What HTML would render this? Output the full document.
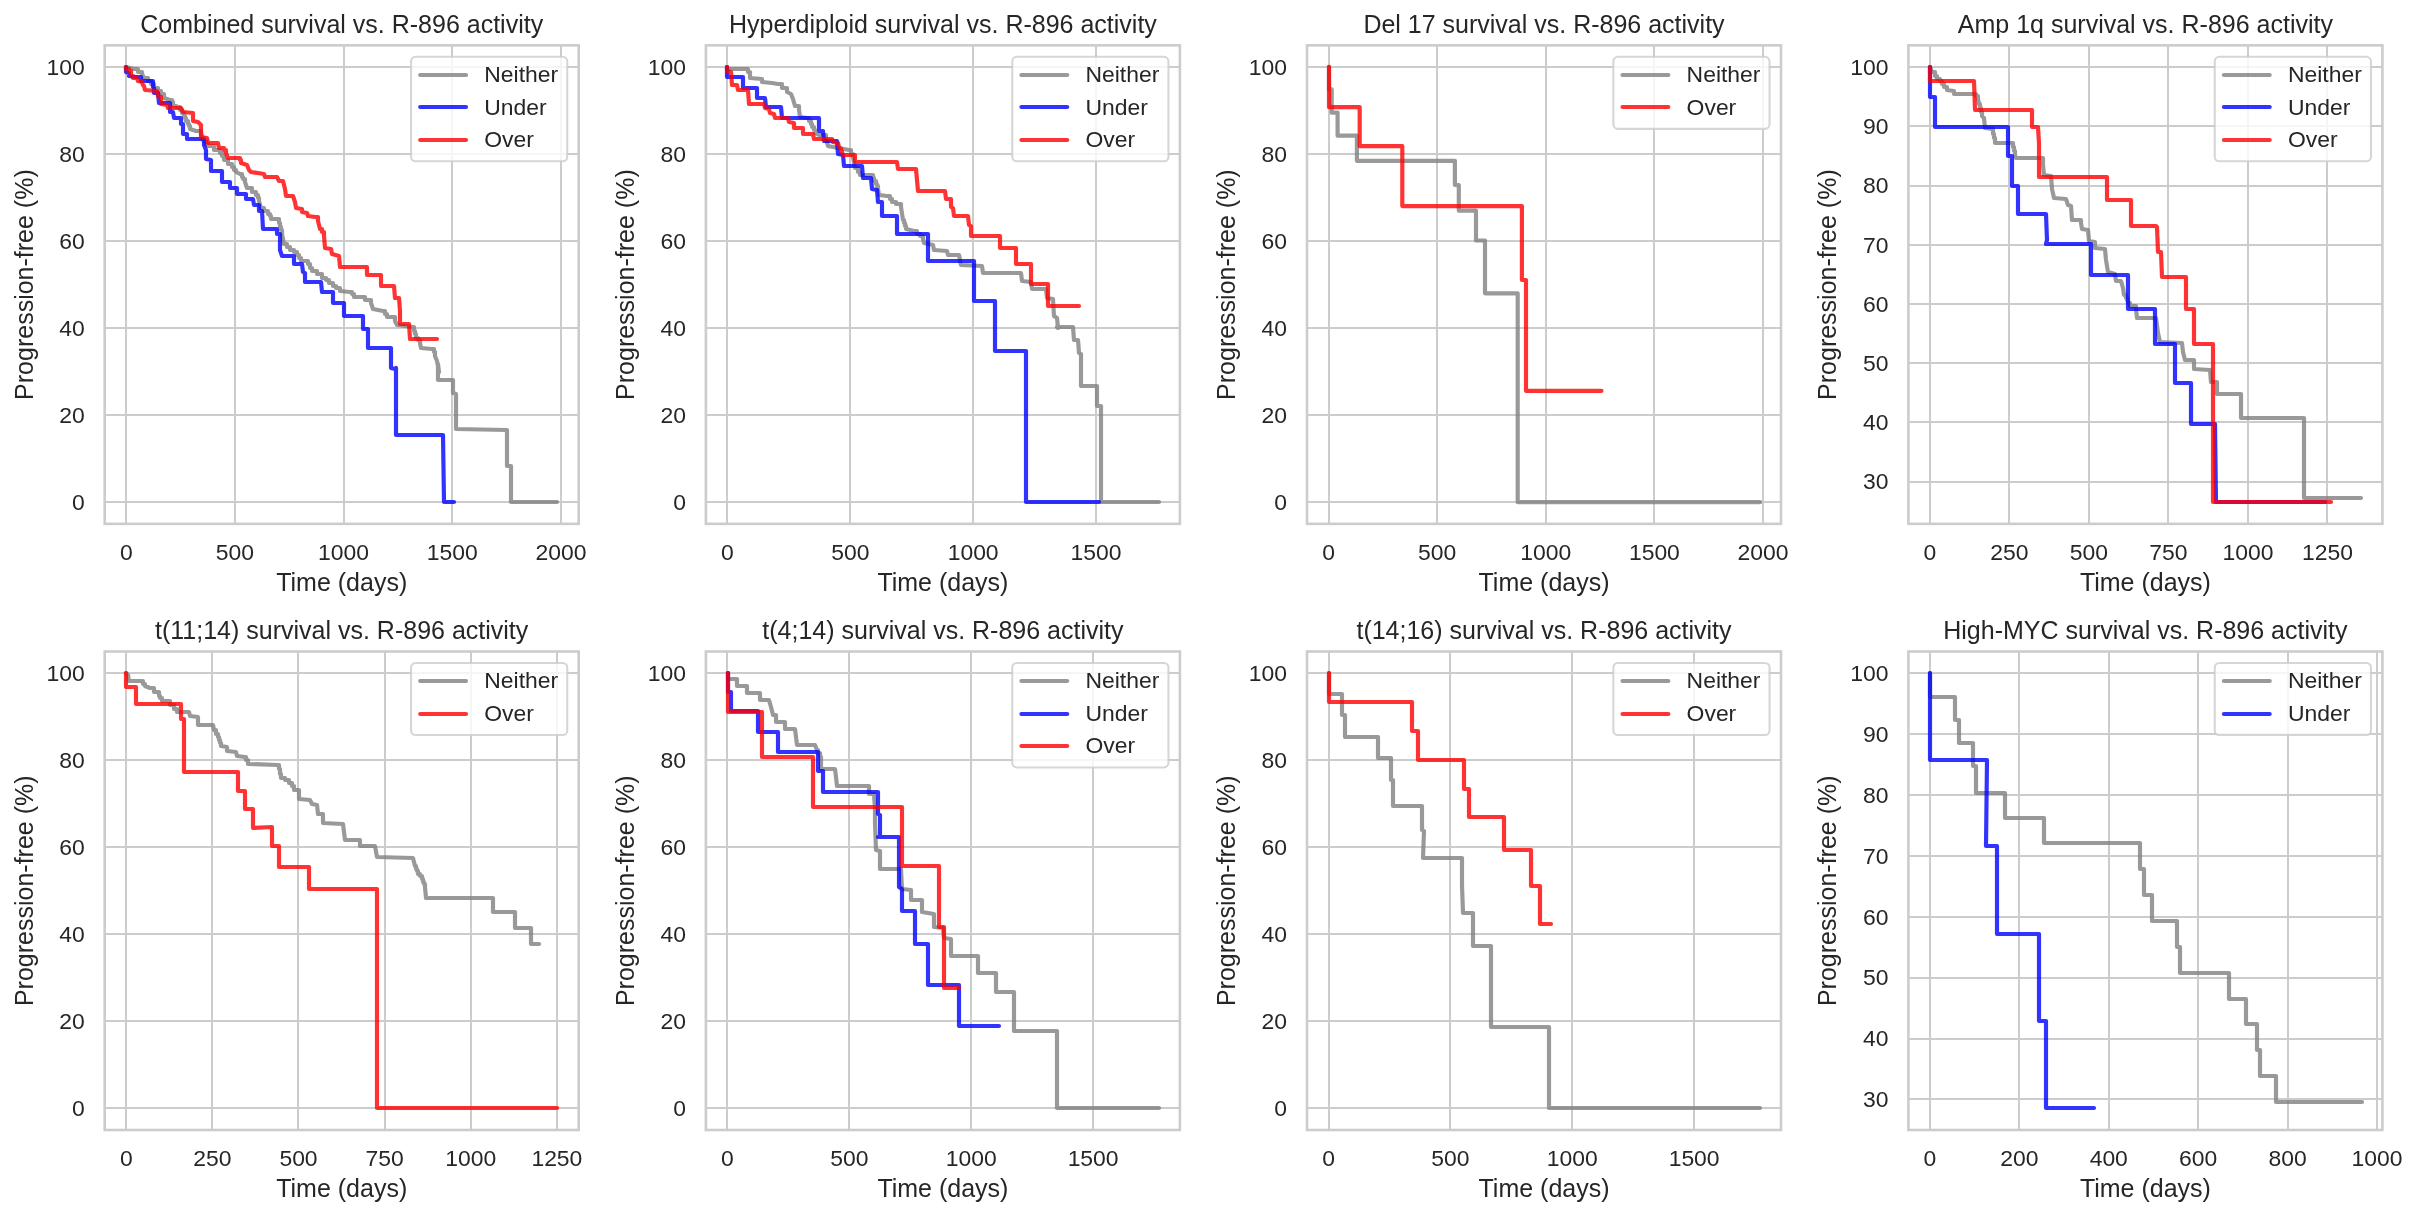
<!DOCTYPE html><html><head><meta charset="utf-8"><style>html,body{margin:0;padding:0;background:#fff;overflow:hidden}svg{display:block;will-change:transform}text{font-family:"Liberation Sans", sans-serif;fill:#262626}</style></head><body>
<svg width="2418" height="1218" viewBox="0 0 2418 1218">
<rect width="2418" height="1218" fill="#ffffff"/>
<path d="M126 45.35V523.85M235 45.35V523.85M344 45.35V523.85M452 45.35V523.85M561 45.35V523.85M104.7 502H578.7M104.7 415H578.7M104.7 328H578.7M104.7 241H578.7M104.7 154H578.7M104.7 67H578.7" stroke="#cccccc" stroke-width="2" fill="none"/>
<path d="M126 67L134 69L138 69L138 72L142 72L142 74L144 78L148 78L148 81L151 81L151 84L154 84L154 88L158 88L158 91L161 91L161 94L164 94L164 98L170 100L172 100L172 102L173 102L173 105L178 107L180 107L180 110L182 110L182 113L184 113L184 116L185 116L185 118L186 118L186 121L188 121L188 124L189 124L189 126L190 126L190 129L196 131L201 131L201 135L202 135L202 138L204 138L204 141L206 141L206 144L208 144L208 146L214 146L214 150L220 150L220 153L222 153L222 156L224 156L224 160L228 160L228 164L232 164L232 167L234 167L234 170L236 170L236 172L240 174L242 174L242 177L243 177L243 179L245 179L245 182L247 188L252 188L252 192L256 192L256 195L258 195L258 198L259 198L259 201L261 208L264 208L264 211L268 211L268 214L270 214L270 216L271 216L271 219L279 219L279 223L280 223L280 227L281 227L281 230L282 230L282 234L284 244L287 244L287 247L290 247L290 250L294 250L294 252L297 252L297 255L299 255L299 258L301 258L301 261L308 261L308 264L310 264L310 268L312 268L312 271L317 271L317 274L322 274L322 278L326 278L326 280L329 280L329 283L333 283L333 286L336 286L336 288L340 288L340 291L350 292L352 292L352 294L354 294L354 297L365 297L365 300L371 300L371 303L373 309L383 311L385 311L385 314L387 314L387 317L395 317L395 321L397 325L413 327L414 327L414 331L415 331L415 334L416 334L416 338L418 338L418 340L420 340L420 343L421 348L432 349L434 349L434 352L435 352L435 356L437 361L439 372L438 364L438 380L453 380L453 393L456 394L456 429L507 430L507 466L511 466L511 502L557 502" stroke="#808080" stroke-opacity="0.8" stroke-width="4.17" fill="none" stroke-linecap="round" stroke-linejoin="round"/>
<path d="M126 67L126 72L129 73L129 76L136 77L141 77L141 81L153 81L153 87L154 88L154 93L158 93L159 103L165 103L170 103L170 112L173 112L174 118L181 118L181 124L183 124L183 134L187 134L187 139L201 139L204 140L204 145L206 150L206 159L211 160L211 171L222 171L222 182L230 182L230 188L237 188L237 194L246 194L246 199L253 199L254 205L259 205L259 211L262 211L263 229L277 229L277 234L280 234L280 250L282 256L294 256L294 264L302 264L303 272L305 273L305 282L321 282L322 292L333 292L333 303L344 303L344 316L363 316L363 329L368 329L368 348L391 348L391 368L395 369L396 368L396 435L443 435L444 502L454 502" stroke="#0000ff" stroke-opacity="0.8" stroke-width="4.17" fill="none" stroke-linecap="round" stroke-linejoin="round"/>
<path d="M126 67L126 69L129 69L129 71L131 71L131 76L133 76L133 78L137 78L138 81L142 82L143 85L144 86L145 90L157 91L158 96L161 97L161 104L167 105L168 108L181 108L183 112L193 113L193 121L198 122L200 124L201 125L201 137L207 138L208 143L218 143L219 148L223 148L224 148L224 150L226 150L226 153L228 158L238 158L240 158L240 160L241 160L241 163L247 165L249 170L251 172L264 174L265 177L277 177L279 181L283 181L285 189L286 196L293 196L295 202L296 208L302 209L302 212L307 213L308 216L315 217L318 217L318 221L320 229L322 229L322 232L324 232L324 236L325 248L331 249L332 254L339 256L340 267L367 267L367 275L381 275L381 286L394 286L395 298L399 298L400 311L400 324L409 324L410 339L437 339" stroke="#ff0000" stroke-opacity="0.8" stroke-width="4.17" fill="none" stroke-linecap="round" stroke-linejoin="round"/>
<rect x="104.7" y="45.35" width="474" height="478.5" fill="none" stroke="#cccccc" stroke-width="2.6"/>
<text x="126.25" y="560.15" font-size="22.92" text-anchor="middle">0</text>
<text x="234.92" y="560.15" font-size="22.92" text-anchor="middle">500</text>
<text x="343.59" y="560.15" font-size="22.92" text-anchor="middle">1000</text>
<text x="452.26" y="560.15" font-size="22.92" text-anchor="middle">1500</text>
<text x="560.94" y="560.15" font-size="22.92" text-anchor="middle">2000</text>
<text x="84.7" y="509.85" font-size="22.92" text-anchor="end">0</text>
<text x="84.7" y="422.85" font-size="22.92" text-anchor="end">20</text>
<text x="84.7" y="335.85" font-size="22.92" text-anchor="end">40</text>
<text x="84.7" y="248.85" font-size="22.92" text-anchor="end">60</text>
<text x="84.7" y="161.85" font-size="22.92" text-anchor="end">80</text>
<text x="84.7" y="74.85" font-size="22.92" text-anchor="end">100</text>
<text x="341.7" y="32.85" font-size="25" text-anchor="middle">Combined survival vs. R-896 activity</text>
<text x="341.7" y="590.8" font-size="25" text-anchor="middle">Time (days)</text>
<text x="32.7" y="284.6" font-size="25" text-anchor="middle" transform="rotate(-90 32.7 284.6)">Progression-free (%)</text>
<rect x="411.05" y="56.8" width="156.2" height="104.5" rx="4.6" ry="4.6" fill="#ffffff" fill-opacity="0.8" stroke="#cccccc" stroke-opacity="0.8" stroke-width="2.08"/>
<path d="M420.21 75H466.01" stroke="#808080" stroke-opacity="0.8" stroke-width="4.17" stroke-linecap="round"/>
<text x="484.31" y="82.2" font-size="22.92">Neither</text>
<path d="M420.21 107H466.01" stroke="#0000ff" stroke-opacity="0.8" stroke-width="4.17" stroke-linecap="round"/>
<text x="484.31" y="114.6" font-size="22.92">Under</text>
<path d="M420.21 140H466.01" stroke="#ff0000" stroke-opacity="0.8" stroke-width="4.17" stroke-linecap="round"/>
<text x="484.31" y="147" font-size="22.92">Over</text>
<path d="M727 45.35V523.85M850 45.35V523.85M973 45.35V523.85M1096 45.35V523.85M705.9 502H1179.9M705.9 415H1179.9M705.9 328H1179.9M705.9 241H1179.9M705.9 154H1179.9M705.9 67H1179.9" stroke="#cccccc" stroke-width="2" fill="none"/>
<path d="M727 67L727 69L746 69L748 69L748 72L750 72L750 75L750 78L762 79L762 82L772 83L778 84L782 84L782 88L787 88L787 92L791 94L793 99L795 106L799 106L799 110L800 117L807 118L809 118L809 121L811 121L811 124L812 124L812 127L814 127L814 130L815 130L815 133L819 135L826 135L826 139L828 146L833 147L839 148L849 150L851 150L851 154L853 154L853 157L855 168L858 168L858 172L860 172L860 175L873 175L873 178L874 178L874 181L876 181L876 184L877 184L877 186L878 186L878 189L879 195L887 196L890 196L890 199L892 199L892 202L896 202L896 204L901 204L901 207L903 220L904 220L904 223L905 223L905 226L906 226L906 229L914 231L917 231L917 234L920 234L920 236L923 236L923 239L924 243L933 245L934 250L947 251L948 255L959 255L960 260L961 265L982 266L983 273L1021 273L1022 281L1031 282L1032 289L1046 289L1047 298L1053 299L1054 316L1057 318L1058 328L1057 327L1073 327L1074 340L1078 340L1079 353L1081 354L1081 368L1081 386L1097 386L1097 406L1101 406L1101 470L1101 502L1159 502" stroke="#808080" stroke-opacity="0.8" stroke-width="4.17" fill="none" stroke-linecap="round" stroke-linejoin="round"/>
<path d="M727 67L727 77L743 77L743 88L757 88L757 98L765 98L766 107L781 107L782 118L819 118L819 131L823 131L824 141L837 141L838 154L843 155L844 166L862 166L863 178L871 178L872 189L877 190L878 202L882 202L882 216L897 216L897 234L928 234L928 261L974 261L974 301L995 301L995 320L995 351L1026 351L1026 470L1026 502L1099 502" stroke="#0000ff" stroke-opacity="0.8" stroke-width="4.17" fill="none" stroke-linecap="round" stroke-linejoin="round"/>
<path d="M727 67L727 71L731 72L732 85L737 85L738 90L748 90L749 104L764 104L765 108L769 109L770 113L774 114L775 118L788 118L789 122L794 123L794 128L803 128L803 134L813 134L814 139L832 139L833 142L838 143L839 147L841 149L843 155L855 155L855 162L897 162L898 169L916 169L918 191L945 191L946 199L951 199L951 207L953 208L954 216L968 216L969 225L971 226L971 236L1000 236L1000 248L1016 248L1016 264L1031 264L1031 284L1048 284L1048 306L1079 306" stroke="#ff0000" stroke-opacity="0.8" stroke-width="4.17" fill="none" stroke-linecap="round" stroke-linejoin="round"/>
<rect x="705.9" y="45.35" width="474" height="478.5" fill="none" stroke="#cccccc" stroke-width="2.6"/>
<text x="727.45" y="560.15" font-size="22.92" text-anchor="middle">0</text>
<text x="850.3" y="560.15" font-size="22.92" text-anchor="middle">500</text>
<text x="973.15" y="560.15" font-size="22.92" text-anchor="middle">1000</text>
<text x="1096" y="560.15" font-size="22.92" text-anchor="middle">1500</text>
<text x="685.9" y="509.85" font-size="22.92" text-anchor="end">0</text>
<text x="685.9" y="422.85" font-size="22.92" text-anchor="end">20</text>
<text x="685.9" y="335.85" font-size="22.92" text-anchor="end">40</text>
<text x="685.9" y="248.85" font-size="22.92" text-anchor="end">60</text>
<text x="685.9" y="161.85" font-size="22.92" text-anchor="end">80</text>
<text x="685.9" y="74.85" font-size="22.92" text-anchor="end">100</text>
<text x="942.9" y="32.85" font-size="25" text-anchor="middle">Hyperdiploid survival vs. R-896 activity</text>
<text x="942.9" y="590.8" font-size="25" text-anchor="middle">Time (days)</text>
<text x="633.9" y="284.6" font-size="25" text-anchor="middle" transform="rotate(-90 633.9 284.6)">Progression-free (%)</text>
<rect x="1012.25" y="56.8" width="156.2" height="104.5" rx="4.6" ry="4.6" fill="#ffffff" fill-opacity="0.8" stroke="#cccccc" stroke-opacity="0.8" stroke-width="2.08"/>
<path d="M1021.41 75H1067.21" stroke="#808080" stroke-opacity="0.8" stroke-width="4.17" stroke-linecap="round"/>
<text x="1085.51" y="82.2" font-size="22.92">Neither</text>
<path d="M1021.41 107H1067.21" stroke="#0000ff" stroke-opacity="0.8" stroke-width="4.17" stroke-linecap="round"/>
<text x="1085.51" y="114.6" font-size="22.92">Under</text>
<path d="M1021.41 140H1067.21" stroke="#ff0000" stroke-opacity="0.8" stroke-width="4.17" stroke-linecap="round"/>
<text x="1085.51" y="147" font-size="22.92">Over</text>
<path d="M1329 45.35V523.85M1437 45.35V523.85M1546 45.35V523.85M1654 45.35V523.85M1763 45.35V523.85M1307 502H1781M1307 415H1781M1307 328H1781M1307 241H1781M1307 154H1781M1307 67H1781" stroke="#cccccc" stroke-width="2" fill="none"/>
<path d="M1329 66.8V89.4H1331.7V112.7H1337.6V135.7H1356.9V160.8H1454.9V185H1458.8V210.7H1476V240.5H1485V293.3H1517.7V502.2H1760.1" stroke="#808080" stroke-opacity="0.8" stroke-width="4.17" fill="none" stroke-linecap="round" stroke-linejoin="round"/>
<path d="M1329 66.8V107.2H1359.7V146.2H1402.3V206.1H1521.9V280H1526V390.8H1601.5" stroke="#ff0000" stroke-opacity="0.8" stroke-width="4.17" fill="none" stroke-linecap="round" stroke-linejoin="round"/>
<rect x="1307" y="45.35" width="474" height="478.5" fill="none" stroke="#cccccc" stroke-width="2.6"/>
<text x="1328.55" y="560.15" font-size="22.92" text-anchor="middle">0</text>
<text x="1437.16" y="560.15" font-size="22.92" text-anchor="middle">500</text>
<text x="1545.78" y="560.15" font-size="22.92" text-anchor="middle">1000</text>
<text x="1654.4" y="560.15" font-size="22.92" text-anchor="middle">1500</text>
<text x="1763.02" y="560.15" font-size="22.92" text-anchor="middle">2000</text>
<text x="1287" y="509.85" font-size="22.92" text-anchor="end">0</text>
<text x="1287" y="422.85" font-size="22.92" text-anchor="end">20</text>
<text x="1287" y="335.85" font-size="22.92" text-anchor="end">40</text>
<text x="1287" y="248.85" font-size="22.92" text-anchor="end">60</text>
<text x="1287" y="161.85" font-size="22.92" text-anchor="end">80</text>
<text x="1287" y="74.85" font-size="22.92" text-anchor="end">100</text>
<text x="1544" y="32.85" font-size="25" text-anchor="middle">Del 17 survival vs. R-896 activity</text>
<text x="1544" y="590.8" font-size="25" text-anchor="middle">Time (days)</text>
<text x="1235" y="284.6" font-size="25" text-anchor="middle" transform="rotate(-90 1235 284.6)">Progression-free (%)</text>
<rect x="1613.35" y="56.8" width="156.2" height="72.1" rx="4.6" ry="4.6" fill="#ffffff" fill-opacity="0.8" stroke="#cccccc" stroke-opacity="0.8" stroke-width="2.08"/>
<path d="M1622.51 75H1668.31" stroke="#808080" stroke-opacity="0.8" stroke-width="4.17" stroke-linecap="round"/>
<text x="1686.61" y="82.2" font-size="22.92">Neither</text>
<path d="M1622.51 107H1668.31" stroke="#ff0000" stroke-opacity="0.8" stroke-width="4.17" stroke-linecap="round"/>
<text x="1686.61" y="114.6" font-size="22.92">Over</text>
<path d="M1930 45.35V523.85M2009 45.35V523.85M2089 45.35V523.85M2168 45.35V523.85M2248 45.35V523.85M2327 45.35V523.85M1908.4 482H2382.4M1908.4 422H2382.4M1908.4 363H2382.4M1908.4 304H2382.4M1908.4 245H2382.4M1908.4 186H2382.4M1908.4 126H2382.4M1908.4 67H2382.4" stroke="#cccccc" stroke-width="2" fill="none"/>
<path d="M1930 67L1932 72L1935 72L1935 76L1937 76L1937 79L1940 79L1940 81L1942 81L1942 84L1944 84L1944 87L1947 87L1947 90L1954 91L1954 94L1973 94L1976 94L1976 96L1978 96L1978 99L1979 104L1980 104L1980 108L1981 108L1981 112L1982 112L1982 116L1984 118L1985 128L1992 129L1993 129L1993 134L1994 134L1994 138L1995 138L1995 143L2012 143L2013 143L2013 147L2014 147L2014 151L2015 151L2015 155L2016 158L2043 158L2043 165L2044 175L2051 176L2052 189L2054 198L2066 199L2068 205L2071 206L2072 220L2081 220L2081 223L2082 229L2088 230L2089 241L2095 242L2095 248L2105 249L2106 260L2108 272L2115 274L2116 281L2121 281L2123 288L2124 295L2126 295L2126 298L2127 298L2127 300L2128 300L2128 303L2130 303L2130 306L2136 306L2136 309L2137 318L2156 318L2158 333L2160 342L2182 343L2183 352L2185 360L2194 360L2194 369L2210 370L2211 382L2217 382L2217 394L2241 394L2241 418L2304 418L2304 498L2361 498" stroke="#808080" stroke-opacity="0.8" stroke-width="4.17" fill="none" stroke-linecap="round" stroke-linejoin="round"/>
<path d="M1930 67L1930 97L1935 97L1935 127L2008 127L2008 156L2012 156L2012 186L2018 186L2018 214L2046 214L2047 240L2046 244L2091 244L2091 275L2128 275L2128 309L2155 309L2155 344L2175 344L2175 383L2191 383L2191 400L2191 424L2215 424L2216 502L2325 502" stroke="#0000ff" stroke-opacity="0.8" stroke-width="4.17" fill="none" stroke-linecap="round" stroke-linejoin="round"/>
<path d="M1930 67L1930 81L1974 81L1975 110L2032 110L2032 127L2038 127L2039 143L2039 177L2107 177L2107 200L2131 200L2131 226L2156 226L2157 227L2158 252L2161 252L2162 277L2186 277L2186 309L2194 309L2194 344L2213 344L2213 400L2213 502L2331 502" stroke="#ff0000" stroke-opacity="0.8" stroke-width="4.17" fill="none" stroke-linecap="round" stroke-linejoin="round"/>
<rect x="1908.4" y="45.35" width="474" height="478.5" fill="none" stroke="#cccccc" stroke-width="2.6"/>
<text x="1929.95" y="560.15" font-size="22.92" text-anchor="middle">0</text>
<text x="2009.45" y="560.15" font-size="22.92" text-anchor="middle">250</text>
<text x="2088.95" y="560.15" font-size="22.92" text-anchor="middle">500</text>
<text x="2168.46" y="560.15" font-size="22.92" text-anchor="middle">750</text>
<text x="2247.96" y="560.15" font-size="22.92" text-anchor="middle">1000</text>
<text x="2327.46" y="560.15" font-size="22.92" text-anchor="middle">1250</text>
<text x="1888.4" y="489.47" font-size="22.92" text-anchor="end">30</text>
<text x="1888.4" y="430.24" font-size="22.92" text-anchor="end">40</text>
<text x="1888.4" y="371.01" font-size="22.92" text-anchor="end">50</text>
<text x="1888.4" y="311.78" font-size="22.92" text-anchor="end">60</text>
<text x="1888.4" y="252.55" font-size="22.92" text-anchor="end">70</text>
<text x="1888.4" y="193.31" font-size="22.92" text-anchor="end">80</text>
<text x="1888.4" y="134.08" font-size="22.92" text-anchor="end">90</text>
<text x="1888.4" y="74.85" font-size="22.92" text-anchor="end">100</text>
<text x="2145.4" y="32.85" font-size="25" text-anchor="middle">Amp 1q survival vs. R-896 activity</text>
<text x="2145.4" y="590.8" font-size="25" text-anchor="middle">Time (days)</text>
<text x="1836.4" y="284.6" font-size="25" text-anchor="middle" transform="rotate(-90 1836.4 284.6)">Progression-free (%)</text>
<rect x="2214.75" y="56.8" width="156.2" height="104.5" rx="4.6" ry="4.6" fill="#ffffff" fill-opacity="0.8" stroke="#cccccc" stroke-opacity="0.8" stroke-width="2.08"/>
<path d="M2223.91 75H2269.71" stroke="#808080" stroke-opacity="0.8" stroke-width="4.17" stroke-linecap="round"/>
<text x="2288.01" y="82.2" font-size="22.92">Neither</text>
<path d="M2223.91 107H2269.71" stroke="#0000ff" stroke-opacity="0.8" stroke-width="4.17" stroke-linecap="round"/>
<text x="2288.01" y="114.6" font-size="22.92">Under</text>
<path d="M2223.91 140H2269.71" stroke="#ff0000" stroke-opacity="0.8" stroke-width="4.17" stroke-linecap="round"/>
<text x="2288.01" y="147" font-size="22.92">Over</text>
<path d="M126 651.5V1130M212 651.5V1130M298 651.5V1130M385 651.5V1130M471 651.5V1130M557 651.5V1130M104.7 1108H578.7M104.7 1021H578.7M104.7 934H578.7M104.7 847H578.7M104.7 760H578.7M104.7 673H578.7" stroke="#cccccc" stroke-width="2" fill="none"/>
<path d="M126 673L128 675L129 681L141 681L143 681L143 684L145 684L145 686L150 688L154 688L154 692L159 692L159 696L160 696L160 698L162 698L162 701L170 701L170 705L174 705L174 709L177 709L177 712L189 712L190 716L198 717L198 725L213 725L214 730L216 730L216 734L218 734L218 737L219 737L219 740L220 740L220 743L221 743L221 746L227 747L227 751L236 752L237 756L245 757L246 757L246 760L248 760L248 764L278 765L279 765L279 769L280 769L280 774L281 774L281 778L285 778L285 780L289 780L289 783L292 783L292 786L294 786L294 790L299 790L299 794L299 799L310 800L312 804L317 805L318 814L323 814L323 823L343 824L345 840L360 840L360 846L375 846L377 857L413 858L415 866L416 866L416 869L417 869L417 871L418 871L418 874L420 874L420 876L422 876L422 879L423 879L423 882L424 882L424 884L425 884L425 887L426 898L493 898L493 912L515 912L515 928L531 928L531 944L539 944" stroke="#808080" stroke-opacity="0.8" stroke-width="4.17" fill="none" stroke-linecap="round" stroke-linejoin="round"/>
<path d="M126 673L126 687L136 687L136 704L181 704L181 719L184 719L184 772L238 772L238 791L245 791L245 809L253 809L253 828L272 827L272 846L279 846L279 867L309 867L309 889L377 889L377 1108L557 1108" stroke="#ff0000" stroke-opacity="0.8" stroke-width="4.17" fill="none" stroke-linecap="round" stroke-linejoin="round"/>
<rect x="104.7" y="651.5" width="474" height="478.5" fill="none" stroke="#cccccc" stroke-width="2.6"/>
<text x="126.25" y="1166.3" font-size="22.92" text-anchor="middle">0</text>
<text x="212.37" y="1166.3" font-size="22.92" text-anchor="middle">250</text>
<text x="298.5" y="1166.3" font-size="22.92" text-anchor="middle">500</text>
<text x="384.63" y="1166.3" font-size="22.92" text-anchor="middle">750</text>
<text x="470.75" y="1166.3" font-size="22.92" text-anchor="middle">1000</text>
<text x="556.88" y="1166.3" font-size="22.92" text-anchor="middle">1250</text>
<text x="84.7" y="1116" font-size="22.92" text-anchor="end">0</text>
<text x="84.7" y="1029" font-size="22.92" text-anchor="end">20</text>
<text x="84.7" y="942" font-size="22.92" text-anchor="end">40</text>
<text x="84.7" y="855" font-size="22.92" text-anchor="end">60</text>
<text x="84.7" y="768" font-size="22.92" text-anchor="end">80</text>
<text x="84.7" y="681" font-size="22.92" text-anchor="end">100</text>
<text x="341.7" y="639" font-size="25" text-anchor="middle">t(11;14) survival vs. R-896 activity</text>
<text x="341.7" y="1196.95" font-size="25" text-anchor="middle">Time (days)</text>
<text x="32.7" y="890.75" font-size="25" text-anchor="middle" transform="rotate(-90 32.7 890.75)">Progression-free (%)</text>
<rect x="411.05" y="662.95" width="156.2" height="72.1" rx="4.6" ry="4.6" fill="#ffffff" fill-opacity="0.8" stroke="#cccccc" stroke-opacity="0.8" stroke-width="2.08"/>
<path d="M420.21 681H466.01" stroke="#808080" stroke-opacity="0.8" stroke-width="4.17" stroke-linecap="round"/>
<text x="484.31" y="688.35" font-size="22.92">Neither</text>
<path d="M420.21 714H466.01" stroke="#ff0000" stroke-opacity="0.8" stroke-width="4.17" stroke-linecap="round"/>
<text x="484.31" y="720.75" font-size="22.92">Over</text>
<path d="M727 651.5V1130M849 651.5V1130M971 651.5V1130M1093 651.5V1130M705.9 1108H1179.9M705.9 1021H1179.9M705.9 934H1179.9M705.9 847H1179.9M705.9 760H1179.9M705.9 673H1179.9" stroke="#cccccc" stroke-width="2" fill="none"/>
<path d="M728 673L728 679L737 679L737 686L747 686L747 693L760 693L760 700L769 700L771 707L773 715L776 715L776 722L785 722L785 729L795 729L796 737L797 745L815 745L817 750L818 750L818 753L820 753L820 757L821 757L821 760L821 769L835 769L836 777L837 786L869 786L869 794L874 794L875 809L875 823L876 850L880 851L880 869L901 869L902 889L911 890L911 900L922 900L922 912L934 914L934 927L943 928L944 938L951 939L951 956L978 956L978 973L996 973L996 992L1014 992L1014 1031L1057 1031L1057 1108L1159 1108" stroke="#808080" stroke-opacity="0.8" stroke-width="4.17" fill="none" stroke-linecap="round" stroke-linejoin="round"/>
<path d="M728 673L728 692L731 692L731 711L758 711L758 732L778 732L778 752L818 752L818 771L823 771L823 792L878 792L878 814L880 815L880 837L878 837L899 837L899 887L902 889L902 911L915 911L915 944L928 944L928 985L959 985L959 1026L999 1026" stroke="#0000ff" stroke-opacity="0.8" stroke-width="4.17" fill="none" stroke-linecap="round" stroke-linejoin="round"/>
<path d="M728 673L728 712L762 712L762 757L813 757L813 807L902 807L902 820L902 866L939 866L939 927L944 927L944 988L959 988" stroke="#ff0000" stroke-opacity="0.8" stroke-width="4.17" fill="none" stroke-linecap="round" stroke-linejoin="round"/>
<rect x="705.9" y="651.5" width="474" height="478.5" fill="none" stroke="#cccccc" stroke-width="2.6"/>
<text x="727.45" y="1166.3" font-size="22.92" text-anchor="middle">0</text>
<text x="849.34" y="1166.3" font-size="22.92" text-anchor="middle">500</text>
<text x="971.23" y="1166.3" font-size="22.92" text-anchor="middle">1000</text>
<text x="1093.12" y="1166.3" font-size="22.92" text-anchor="middle">1500</text>
<text x="685.9" y="1116" font-size="22.92" text-anchor="end">0</text>
<text x="685.9" y="1029" font-size="22.92" text-anchor="end">20</text>
<text x="685.9" y="942" font-size="22.92" text-anchor="end">40</text>
<text x="685.9" y="855" font-size="22.92" text-anchor="end">60</text>
<text x="685.9" y="768" font-size="22.92" text-anchor="end">80</text>
<text x="685.9" y="681" font-size="22.92" text-anchor="end">100</text>
<text x="942.9" y="639" font-size="25" text-anchor="middle">t(4;14) survival vs. R-896 activity</text>
<text x="942.9" y="1196.95" font-size="25" text-anchor="middle">Time (days)</text>
<text x="633.9" y="890.75" font-size="25" text-anchor="middle" transform="rotate(-90 633.9 890.75)">Progression-free (%)</text>
<rect x="1012.25" y="662.95" width="156.2" height="104.5" rx="4.6" ry="4.6" fill="#ffffff" fill-opacity="0.8" stroke="#cccccc" stroke-opacity="0.8" stroke-width="2.08"/>
<path d="M1021.41 681H1067.21" stroke="#808080" stroke-opacity="0.8" stroke-width="4.17" stroke-linecap="round"/>
<text x="1085.51" y="688.35" font-size="22.92">Neither</text>
<path d="M1021.41 714H1067.21" stroke="#0000ff" stroke-opacity="0.8" stroke-width="4.17" stroke-linecap="round"/>
<text x="1085.51" y="720.75" font-size="22.92">Under</text>
<path d="M1021.41 746H1067.21" stroke="#ff0000" stroke-opacity="0.8" stroke-width="4.17" stroke-linecap="round"/>
<text x="1085.51" y="753.15" font-size="22.92">Over</text>
<path d="M1329 651.5V1130M1450 651.5V1130M1572 651.5V1130M1694 651.5V1130M1307 1108H1781M1307 1021H1781M1307 934H1781M1307 847H1781M1307 760H1781M1307 673H1781" stroke="#cccccc" stroke-width="2" fill="none"/>
<path d="M1329 673L1329 694L1342 694L1342 715L1345 715L1345 737L1378 737L1378 758L1391 758L1391 780L1393 780L1393 806L1422 806L1422 830L1424 831L1423 858L1462 858L1462 885L1463 913L1473 913L1473 946L1491 946L1491 1027L1549 1027L1549 1108L1760 1108" stroke="#808080" stroke-opacity="0.8" stroke-width="4.17" fill="none" stroke-linecap="round" stroke-linejoin="round"/>
<path d="M1329 673L1329 702L1412 702L1412 731L1418 731L1418 760L1464 760L1464 789L1469 789L1469 817L1504 817L1504 850L1531 850L1531 886L1540 886L1540 924L1551 924" stroke="#ff0000" stroke-opacity="0.8" stroke-width="4.17" fill="none" stroke-linecap="round" stroke-linejoin="round"/>
<rect x="1307" y="651.5" width="474" height="478.5" fill="none" stroke="#cccccc" stroke-width="2.6"/>
<text x="1328.55" y="1166.3" font-size="22.92" text-anchor="middle">0</text>
<text x="1450.41" y="1166.3" font-size="22.92" text-anchor="middle">500</text>
<text x="1572.27" y="1166.3" font-size="22.92" text-anchor="middle">1000</text>
<text x="1694.14" y="1166.3" font-size="22.92" text-anchor="middle">1500</text>
<text x="1287" y="1116" font-size="22.92" text-anchor="end">0</text>
<text x="1287" y="1029" font-size="22.92" text-anchor="end">20</text>
<text x="1287" y="942" font-size="22.92" text-anchor="end">40</text>
<text x="1287" y="855" font-size="22.92" text-anchor="end">60</text>
<text x="1287" y="768" font-size="22.92" text-anchor="end">80</text>
<text x="1287" y="681" font-size="22.92" text-anchor="end">100</text>
<text x="1544" y="639" font-size="25" text-anchor="middle">t(14;16) survival vs. R-896 activity</text>
<text x="1544" y="1196.95" font-size="25" text-anchor="middle">Time (days)</text>
<text x="1235" y="890.75" font-size="25" text-anchor="middle" transform="rotate(-90 1235 890.75)">Progression-free (%)</text>
<rect x="1613.35" y="662.95" width="156.2" height="72.1" rx="4.6" ry="4.6" fill="#ffffff" fill-opacity="0.8" stroke="#cccccc" stroke-opacity="0.8" stroke-width="2.08"/>
<path d="M1622.51 681H1668.31" stroke="#808080" stroke-opacity="0.8" stroke-width="4.17" stroke-linecap="round"/>
<text x="1686.61" y="688.35" font-size="22.92">Neither</text>
<path d="M1622.51 714H1668.31" stroke="#ff0000" stroke-opacity="0.8" stroke-width="4.17" stroke-linecap="round"/>
<text x="1686.61" y="720.75" font-size="22.92">Over</text>
<path d="M1930 651.5V1130M2019 651.5V1130M2109 651.5V1130M2198 651.5V1130M2288 651.5V1130M2377 651.5V1130M1908.4 1099H2382.4M1908.4 1039H2382.4M1908.4 978H2382.4M1908.4 917H2382.4M1908.4 856H2382.4M1908.4 795H2382.4M1908.4 734H2382.4M1908.4 673H2382.4" stroke="#cccccc" stroke-width="2" fill="none"/>
<path d="M1930 673L1930 697L1955 697L1955 720L1959 720L1959 743L1973 743L1973 766L1976 766L1976 793L2005 793L2005 818L2044 818L2044 843L2140 843L2140 869L2144 869L2144 895L2152 895L2152 921L2177 921L2177 947L2180 947L2180 973L2229 973L2229 999L2246 999L2246 1024L2257 1024L2257 1050L2260 1050L2260 1076L2276 1076L2276 1102L2362 1102" stroke="#808080" stroke-opacity="0.8" stroke-width="4.17" fill="none" stroke-linecap="round" stroke-linejoin="round"/>
<path d="M1930 673L1930 760L1987 760L1986 846L1997 846L1997 934L2039 934L2039 1021L2046 1021L2046 1108L2094 1108" stroke="#0000ff" stroke-opacity="0.8" stroke-width="4.17" fill="none" stroke-linecap="round" stroke-linejoin="round"/>
<rect x="1908.4" y="651.5" width="474" height="478.5" fill="none" stroke="#cccccc" stroke-width="2.6"/>
<text x="1929.95" y="1166.3" font-size="22.92" text-anchor="middle">0</text>
<text x="2019.35" y="1166.3" font-size="22.92" text-anchor="middle">200</text>
<text x="2108.75" y="1166.3" font-size="22.92" text-anchor="middle">400</text>
<text x="2198.15" y="1166.3" font-size="22.92" text-anchor="middle">600</text>
<text x="2287.55" y="1166.3" font-size="22.92" text-anchor="middle">800</text>
<text x="2376.95" y="1166.3" font-size="22.92" text-anchor="middle">1000</text>
<text x="1888.4" y="1107.17" font-size="22.92" text-anchor="end">30</text>
<text x="1888.4" y="1046.29" font-size="22.92" text-anchor="end">40</text>
<text x="1888.4" y="985.41" font-size="22.92" text-anchor="end">50</text>
<text x="1888.4" y="924.53" font-size="22.92" text-anchor="end">60</text>
<text x="1888.4" y="863.65" font-size="22.92" text-anchor="end">70</text>
<text x="1888.4" y="802.76" font-size="22.92" text-anchor="end">80</text>
<text x="1888.4" y="741.88" font-size="22.92" text-anchor="end">90</text>
<text x="1888.4" y="681" font-size="22.92" text-anchor="end">100</text>
<text x="2145.4" y="639" font-size="25" text-anchor="middle">High-MYC survival vs. R-896 activity</text>
<text x="2145.4" y="1196.95" font-size="25" text-anchor="middle">Time (days)</text>
<text x="1836.4" y="890.75" font-size="25" text-anchor="middle" transform="rotate(-90 1836.4 890.75)">Progression-free (%)</text>
<rect x="2214.75" y="662.95" width="156.2" height="72.1" rx="4.6" ry="4.6" fill="#ffffff" fill-opacity="0.8" stroke="#cccccc" stroke-opacity="0.8" stroke-width="2.08"/>
<path d="M2223.91 681H2269.71" stroke="#808080" stroke-opacity="0.8" stroke-width="4.17" stroke-linecap="round"/>
<text x="2288.01" y="688.35" font-size="22.92">Neither</text>
<path d="M2223.91 714H2269.71" stroke="#0000ff" stroke-opacity="0.8" stroke-width="4.17" stroke-linecap="round"/>
<text x="2288.01" y="720.75" font-size="22.92">Under</text>
</svg></body></html>
